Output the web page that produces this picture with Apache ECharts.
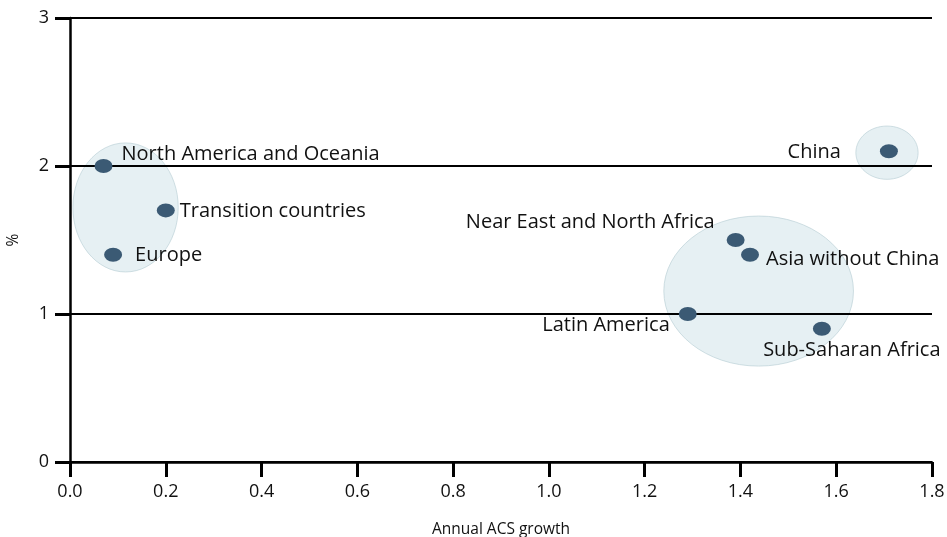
<!DOCTYPE html>
<html>
<head>
<meta charset="utf-8">
<script src="https://cdn.jsdelivr.net/npm/echarts@6/dist/echarts.min.js"></script>
<style>
  html, body { margin: 0; padding: 0; background: #fff; }
  #chart { width: 947px; height: 537px; }
</style>
</head>
<body>
<div id="chart"></div>
<script>
// regions and their values
const regions = [
  "North America and Oceania",
  "Transition countries",
  "Europe",
  "China",
  "Near East and North Africa",
  "Asia without China",
  "Latin America",
  "Sub-Saharan Africa"
];
const acsGrowth = [0.07, 0.2, 0.09, 1.71, 1.39, 1.42, 1.29, 1.57];
const percent = [2.0, 1.7, 1.4, 2.1, 1.5, 1.4, 1.0, 0.9];

// group outlines: centre x, centre y, radius x, radius y (data units)
const groupX = [0.116, 1.706, 1.438];
const groupY = [1.72, 2.09, 1.155];
const groupRx = [0.11, 0.065, 0.198];
const groupRy = [0.436, 0.18, 0.507];

const xTicks = [0, 1.8, 0.2];
const yTicks = [0, 3, 1];

// where each label sits relative to its dot
const labelPlace = [
  { position: "right", distance: 9, offset: [0, -12] },
  { position: "right", distance: 5, offset: [0, 1] },
  { position: "right", distance: 13, offset: [0, 0] },
  { position: "left", distance: 39, offset: [0, 1] },
  { position: "left", distance: 12, offset: [0, -18] },
  { position: "right", distance: 7, offset: [0, 4] },
  { position: "left", distance: 9, offset: [0, 11] },
  { position: "bottom", distance: 4, offset: [30, 0] }
];

const chart = echarts.init(document.getElementById("chart"));

const points = regions.map((name, i) => ({
  name: name,
  value: [acsGrowth[i], percent[i]],
  label: {
    show: true,
    formatter: "{b}",
    position: labelPlace[i].position,
    distance: labelPlace[i].distance,
    offset: labelPlace[i].offset
  }
}));

const groups = groupX.map((x, i) => [x, groupY[i], groupRx[i], groupRy[i]]);

chart.setOption({
  animation: false,
  textStyle: { fontFamily: "Open Sans" },
  grid: { left: 70, right: 15, top: 18, bottom: 75, outerBoundsMode: "none", containLabel: false },
  xAxis: {
    type: "value",
    z: 2,
    min: xTicks[0],
    max: xTicks[1],
    interval: xTicks[2],
    name: "Annual ACS growth",
    nameLocation: "middle",
    nameGap: 60,
    nameTextStyle: { color: "#111", fontSize: 15.5 },
    axisLine: { lineStyle: { color: "#000", width: 2.5 } },
    axisTick: { length: 15, lineStyle: { color: "#000", width: 3 } },
    axisLabel: {
      color: "#111", fontSize: 18, margin: 21,
      formatter: v => v.toFixed(1)
    },
    splitLine: { show: false }
  },
  yAxis: {
    type: "value",
    z: 2,
    min: yTicks[0],
    max: yTicks[1],
    interval: yTicks[2],
    name: "%",
    nameLocation: "middle",
    nameGap: 48,
    nameTextStyle: { color: "#111", fontSize: 15.5 },
    axisLine: { show: true, lineStyle: { color: "#000", width: 2.5 } },
    axisTick: { show: true, length: 15, lineStyle: { color: "#000", width: 3 } },
    axisLabel: { color: "#111", fontSize: 18, margin: 21 },
    splitLine: { lineStyle: { color: "#000", width: 2 } }
  },
  series: [
    {
      type: "custom",
      silent: true,
      z: 1,
      data: groups,
      renderItem: function (params, api) {
        const c = api.coord([api.value(0), api.value(1)]);
        const s = api.size([api.value(2), api.value(3)]);
        return {
          type: "ellipse",
          shape: { cx: c[0], cy: c[1], rx: s[0], ry: s[1] },
          style: {
            fill: "rgba(220,234,238,0.7)",
            stroke: "rgba(180,204,210,0.6)",
            lineWidth: 1
          }
        };
      }
    },
    {
      type: "scatter",
      z: 3,
      symbol: "circle",
      symbolSize: [18, 14],
      itemStyle: { color: "#3b5a74", opacity: 1 },
      label: { color: "#111", fontSize: 20 },
      data: points
    }
  ]
});
</script>
</body>
</html>
